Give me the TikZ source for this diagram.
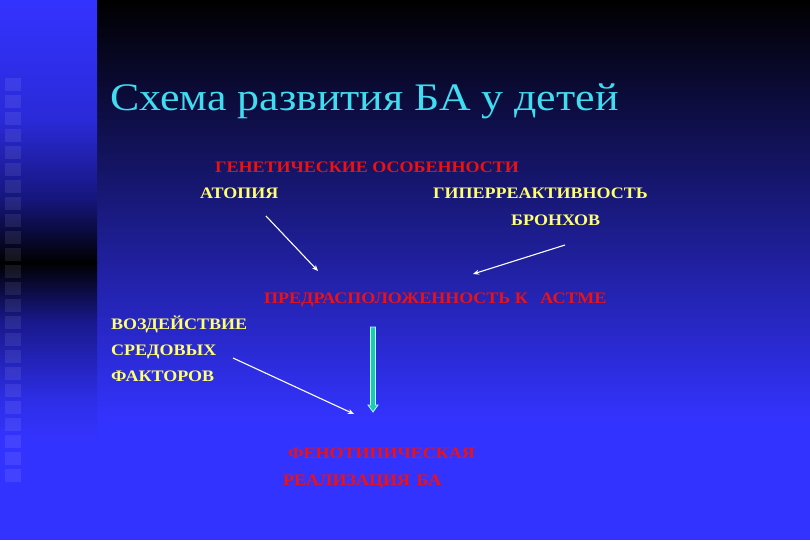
\documentclass[tikz,border=0pt]{standalone}
\usepackage{fontspec}
\setmainfont[FakeStretch=1.125]{Liberation Serif}
\usetikzlibrary{arrows.meta}
\definecolor{bgblue}{HTML}{3333FF}
\definecolor{sA}{HTML}{2A2AD8}
\definecolor{sB}{HTML}{15157A}
\definecolor{sC}{HTML}{18188A}
\definecolor{sD}{HTML}{2E2EE8}
\definecolor{titlecyan}{HTML}{40DCF0}
\definecolor{labyellow}{HTML}{FFFF70}
\definecolor{labred}{HTML}{EE1111}
\definecolor{arrfill}{HTML}{20C8B0}
\definecolor{arredge}{HTML}{B0FFFF}
\tikzset{
  lab/.style={anchor=base west, inner sep=0pt, font=\bfseries\fontsize{16}{18}\selectfont},
  ylab/.style={lab, text=labyellow},
  rlab/.style={lab, text=labred},
  thinarrow/.style={draw=white, line width=1.1pt, -{Stealth[length=6pt,width=5pt]}},
  blockarrow/.style={fill=arrfill, draw=arredge, line width=0.8pt},
  sq/.style={fill=white, fill opacity=0.08, draw=none}
}
\begin{document}
\begin{tikzpicture}[x=1pt,y=-1pt]
\useasboundingbox (0,0) rectangle (810,540);
% main background
\shade[top color=black, bottom color=bgblue] (96,0) rectangle (810,421);
\fill[bgblue] (96,420) rectangle (810,540);
% left strip
\shade[top color=bgblue, bottom color=sA] (0,0) rectangle (97,121);
\shade[top color=sA, bottom color=sB] (0,120) rectangle (97,201);
\shade[top color=sB, bottom color=black] (0,200) rectangle (97,263);
\shade[top color=black, bottom color=sC] (0,262) rectangle (97,321);
\shade[top color=sC, bottom color=sD] (0,320) rectangle (97,401);
\shade[top color=sD, bottom color=bgblue] (0,400) rectangle (97,441);
\fill[bgblue] (0,440) rectangle (97,540);
% squares column
\foreach \k in {0,...,23} {
  \fill[sq] (5,{78+17*\k}) rectangle (21,{91+17*\k});
}
% title
\node[anchor=base west, inner sep=0pt, text=titlecyan, font=\fontsize{39}{41}\selectfont] (title) at (110,111) {Схема развития БА у детей};
% labels
\node[rlab] (gen) at (215,172) {ГЕНЕТИЧЕСКИЕ ОСОБЕННОСТИ};
\node[ylab] (atop) at (200,198) {АТОПИЯ};
\node[ylab] (hyper) at (433,198) {ГИПЕРРЕАКТИВНОСТЬ};
\node[ylab] (bronch) at (511,225) {БРОНХОВ};
\node[rlab] (pred) at (264,303) {ПРЕДРАСПОЛОЖЕННОСТЬ К \hspace{8pt}АСТМЕ};
\node[ylab] (env1) at (111,329) {ВОЗДЕЙСТВИЕ};
\node[ylab] (env2) at (111,355) {СРЕДОВЫХ};
\node[ylab] (env3) at (111,381) {ФАКТОРОВ};
\node[rlab] (pheno1) at (288,458) {ФЕНОТИПИЧЕСКАЯ};
\node[rlab] (pheno2) at (283,485) {РЕАЛИЗАЦИЯ \hspace{2pt}БА};
% arrow end points
\coordinate (a1s) at (266,216);
\coordinate (a1e) at (318,271);
\coordinate (a2s) at (565,245);
\coordinate (a2e) at (473,274);
\coordinate (a3s) at (233,358);
\coordinate (a3e) at (354,414);
\draw[thinarrow] (a1s) -- (a1e);
\draw[thinarrow] (a2s) -- (a2e);
\draw[thinarrow] (a3s) -- (a3e);
% block arrow
\coordinate (bt) at (373,327);
\coordinate (bb) at (373,412);
\draw[blockarrow] ([xshift=-2.5pt]bt) -- ([xshift=2.5pt]bt) -- ([xshift=2.5pt,yshift=7pt]bb) -- ([xshift=5pt,yshift=7pt]bb) -- (bb) -- ([xshift=-5pt,yshift=7pt]bb) -- ([xshift=-2.5pt,yshift=7pt]bb) -- cycle;
\end{tikzpicture}
\end{document}
